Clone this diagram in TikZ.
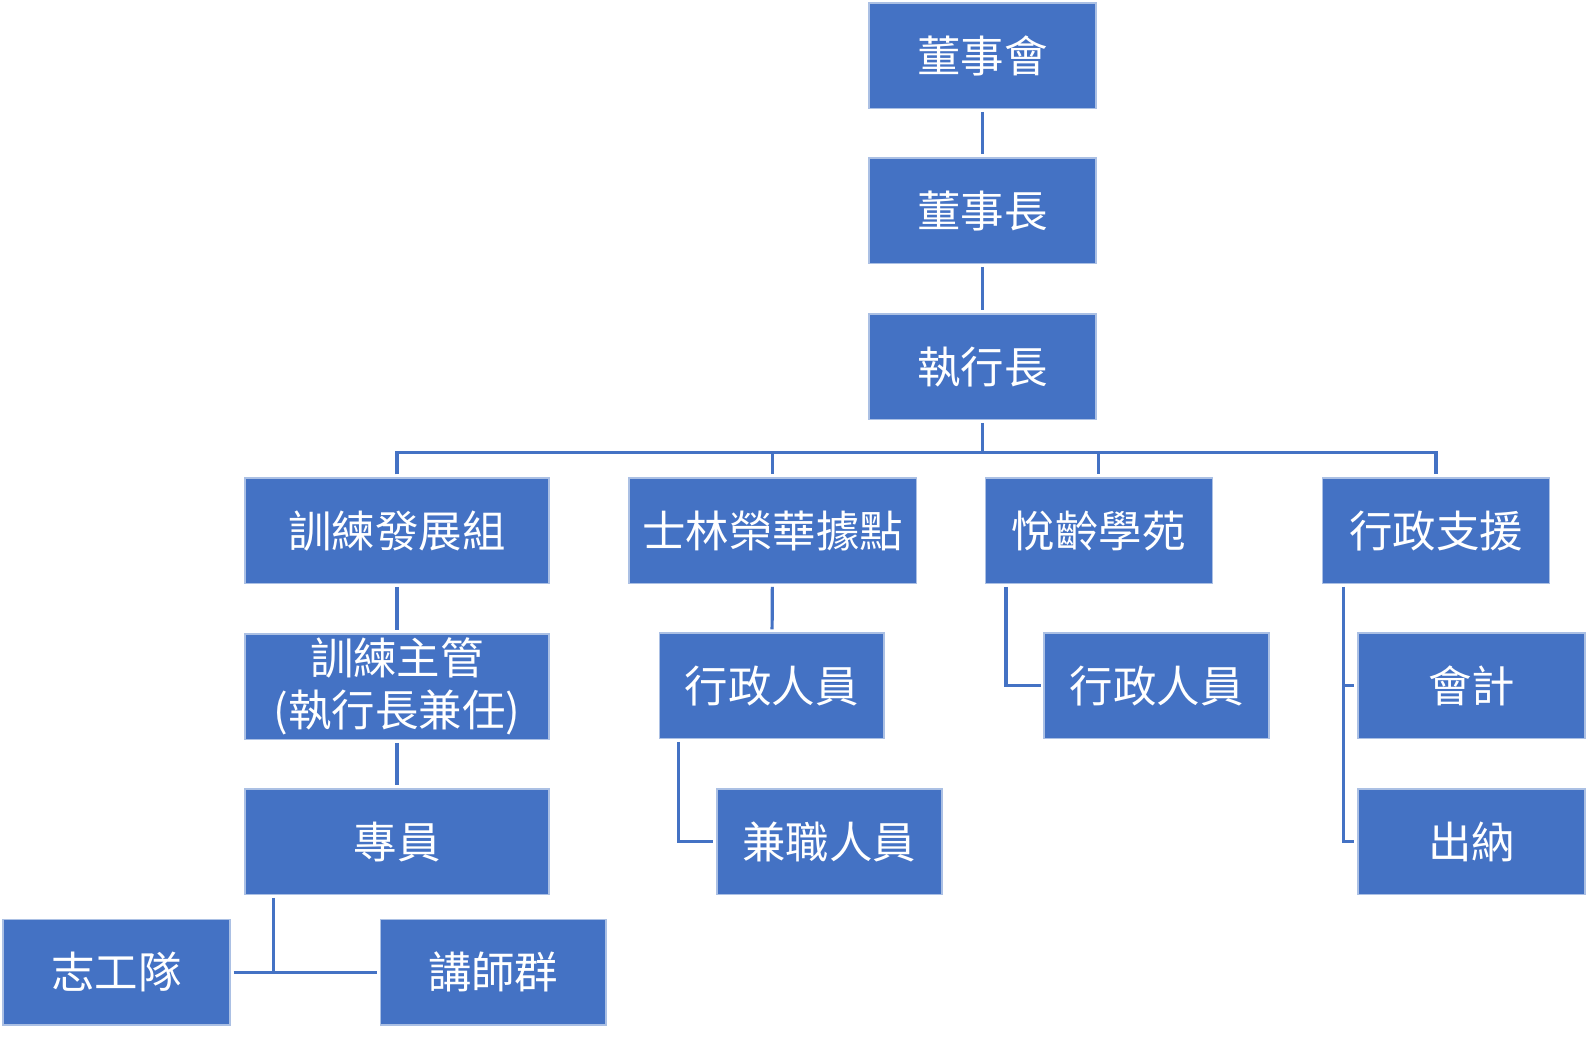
\documentclass[tikz,border=0pt]{standalone}
\usepackage{fontspec}
\setmainfont{Noto Sans CJK TC}
\usetikzlibrary{positioning}
\definecolor{officeblue}{HTML}{4472C4}

\begin{document}
\begin{tikzpicture}[x=0.01cm,y=-0.01cm,line width=0.9pt,draw=officeblue]
  \tikzstyle{box}=[rectangle,fill=officeblue,draw=officeblue!45!white,line width=0.4pt,
                   text=white,inner sep=0pt,minimum height=1.04cm,minimum width=2.24cm,
                   font=\fontsize{12.2}{14.6}\selectfont,align=center]
  \tikzstyle{wide}=[minimum width=3cm]
  \tikzstyle{link}=[shorten <=0.8pt,shorten >=0.8pt]
  \useasboundingbox (0,0) rectangle (1568,1035);

  \node[box] (A) at (970,55)  {董事會};
  \node[box] (B) at (970,208) {董事長};
  \node[box] (C) at (970,362) {執行長};

  \node[box,wide]                    (D) at (392,524)  {訓練發展組};
  \node[box,minimum width=2.84cm]    (E) at (763,524)  {士林榮華據點};
  \node[box]                         (F) at (1085,524) {悅齡學苑};
  \node[box]                         (G) at (1418,524) {行政支援};

  \node[box,wide]                    (H) at (392,678)  {訓練主管\\(執行長兼任)};
  \node[box,minimum width=2.22cm]    (I) at (762,677)  {行政人員};
  \node[box,minimum width=2.22cm]    (J) at (1142,677) {行政人員};
  \node[box]                         (K) at (1453,677) {會計};

  \node[box,wide]                    (L) at (392,831)  {專員};
  \node[box,minimum width=2.22cm]    (M) at (819,831)  {兼職人員};
  \node[box]                         (N) at (1453,831) {出納};

  \node[box]                         (O) at (115,960)  {志工隊};
  \node[box,minimum width=2.23cm]    (P) at (487,960)  {講師群};

  \coordinate (bus) at (970,447);

  \draw[link] (A) -- (B);
  \draw[link] (B) -- (C);
  \draw[shorten <=0.8pt] (C) -- (C.south |- bus);
  \draw[link] (D.north) -- (D.north |- bus) -- (G.north |- bus) -- (G.north);
  \draw[shorten >=0.8pt] (E.north |- bus) -- (E.north);
  \draw[shorten >=0.8pt] (F.north |- bus) -- (F.north);

  \draw[link] (D) -- (H);
  \draw[link] (H) -- (L);
  \draw[link] (E) -- (I);
  \draw[link] ([xshift=0.2cm]I.south west) |- (M.west);
  \draw[link] ([xshift=0.21cm]F.south west) |- (J.west);
  \draw[link] ([xshift=0.21cm]G.south west) |- (K.west);
  \draw[link] ([xshift=0.21cm]G.south west) |- (N.west);
  \draw[shorten <=0.8pt] ([xshift=0.29cm]L.south west) -- ([xshift=0.29cm]L.south west |- O.east);
  \draw[link] (O.east) -- (P.west);

\end{tikzpicture}
\end{document}
